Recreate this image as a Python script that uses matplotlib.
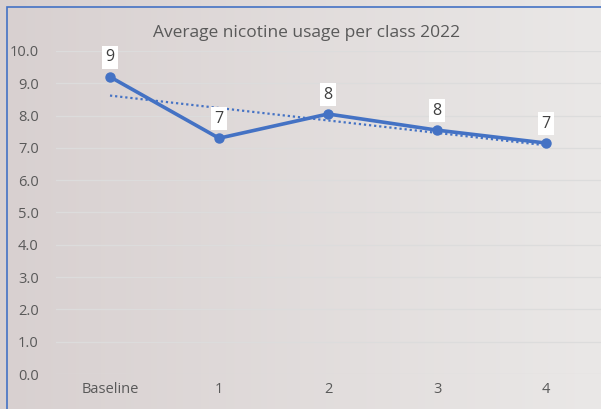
import numpy as np
import matplotlib
matplotlib.use("Agg")
import matplotlib.pyplot as plt
from matplotlib.patches import Rectangle

categories = ["Baseline", "1", "2", "3", "4"]
usage = [9.2, 7.3, 8.05, 7.55, 7.15]
title = "Average nicotine usage per class 2022"

LINE = "#4472c4"
TEXT = "#595959"

plt.rcParams["font.family"] = ["Open Sans", "DejaVu Sans"]

fig = plt.figure(figsize=(6.01, 4.09), dpi=100)

# soft horizontal gradient behind everything
bg = fig.add_axes([0, 0, 1, 1], zorder=0)
left_c = np.array([216, 208, 208]) / 255
right_c = np.array([234, 232, 231]) / 255
t = np.linspace(0, 1, 256)[None, :, None]
grad = left_c * (1 - t) + right_c * t
bg.imshow(grad, aspect="auto", extent=[0, 1, 0, 1])
bg.set_axis_off()

# chart-area border, only the left and top edges are visible
fig.add_artist(Rectangle((6.5 / 601, -0.1), 1.2, 1.1 - 7.5 / 409,
                         transform=fig.transFigure, fill=False,
                         edgecolor=LINE, linewidth=1.2, zorder=1))

ax = fig.add_axes([55.5 / 601, 1 - 374 / 409, 545 / 601, 323 / 409], zorder=2)
ax.patch.set_alpha(0)
x = np.arange(len(categories))

ax.plot(x, usage, color=LINE, linewidth=2.6, marker="o", markersize=6.5,
        solid_capstyle="round", zorder=4)

# linear trendline
slope, icpt = np.polyfit(x, usage, 1)
ax.plot(x, slope * x + icpt, color=LINE, linewidth=1.6, linestyle=(0, (1, 1.3)),
        zorder=3)

for xi, v in zip(x, usage):
    ax.annotate(f"{v:.0f}", (xi, v), xytext=(0, 14), textcoords="offset points",
                ha="center", va="center", fontsize=11.5, color="#404040",
                bbox=dict(boxstyle="square,pad=0.22", fc="white", ec="none"),
                zorder=5)

ax.set_xlim(-0.5, len(categories) - 0.5)
ax.set_ylim(0, 10)
ax.set_yticks(np.arange(0, 10.5, 1.0))
ax.set_yticklabels([f"{v:.1f}" for v in np.arange(0, 10.5, 1.0)])
ax.set_xticks(x)
ax.set_xticklabels(categories)
ax.tick_params(length=0, colors=TEXT, labelsize=10.5)
ax.tick_params(axis="y", pad=12)
ax.tick_params(axis="x", pad=6)
ax.grid(axis="y", color="#dcdcdc", linewidth=0.9)
ax.set_axisbelow(True)
for s in ax.spines.values():
    s.set_visible(False)

fig.text(307 / 601, 1 - 33 / 409, title, ha="center", va="center",
         fontsize=12.5, color=TEXT)

fig.savefig("out.png", dpi=100)
